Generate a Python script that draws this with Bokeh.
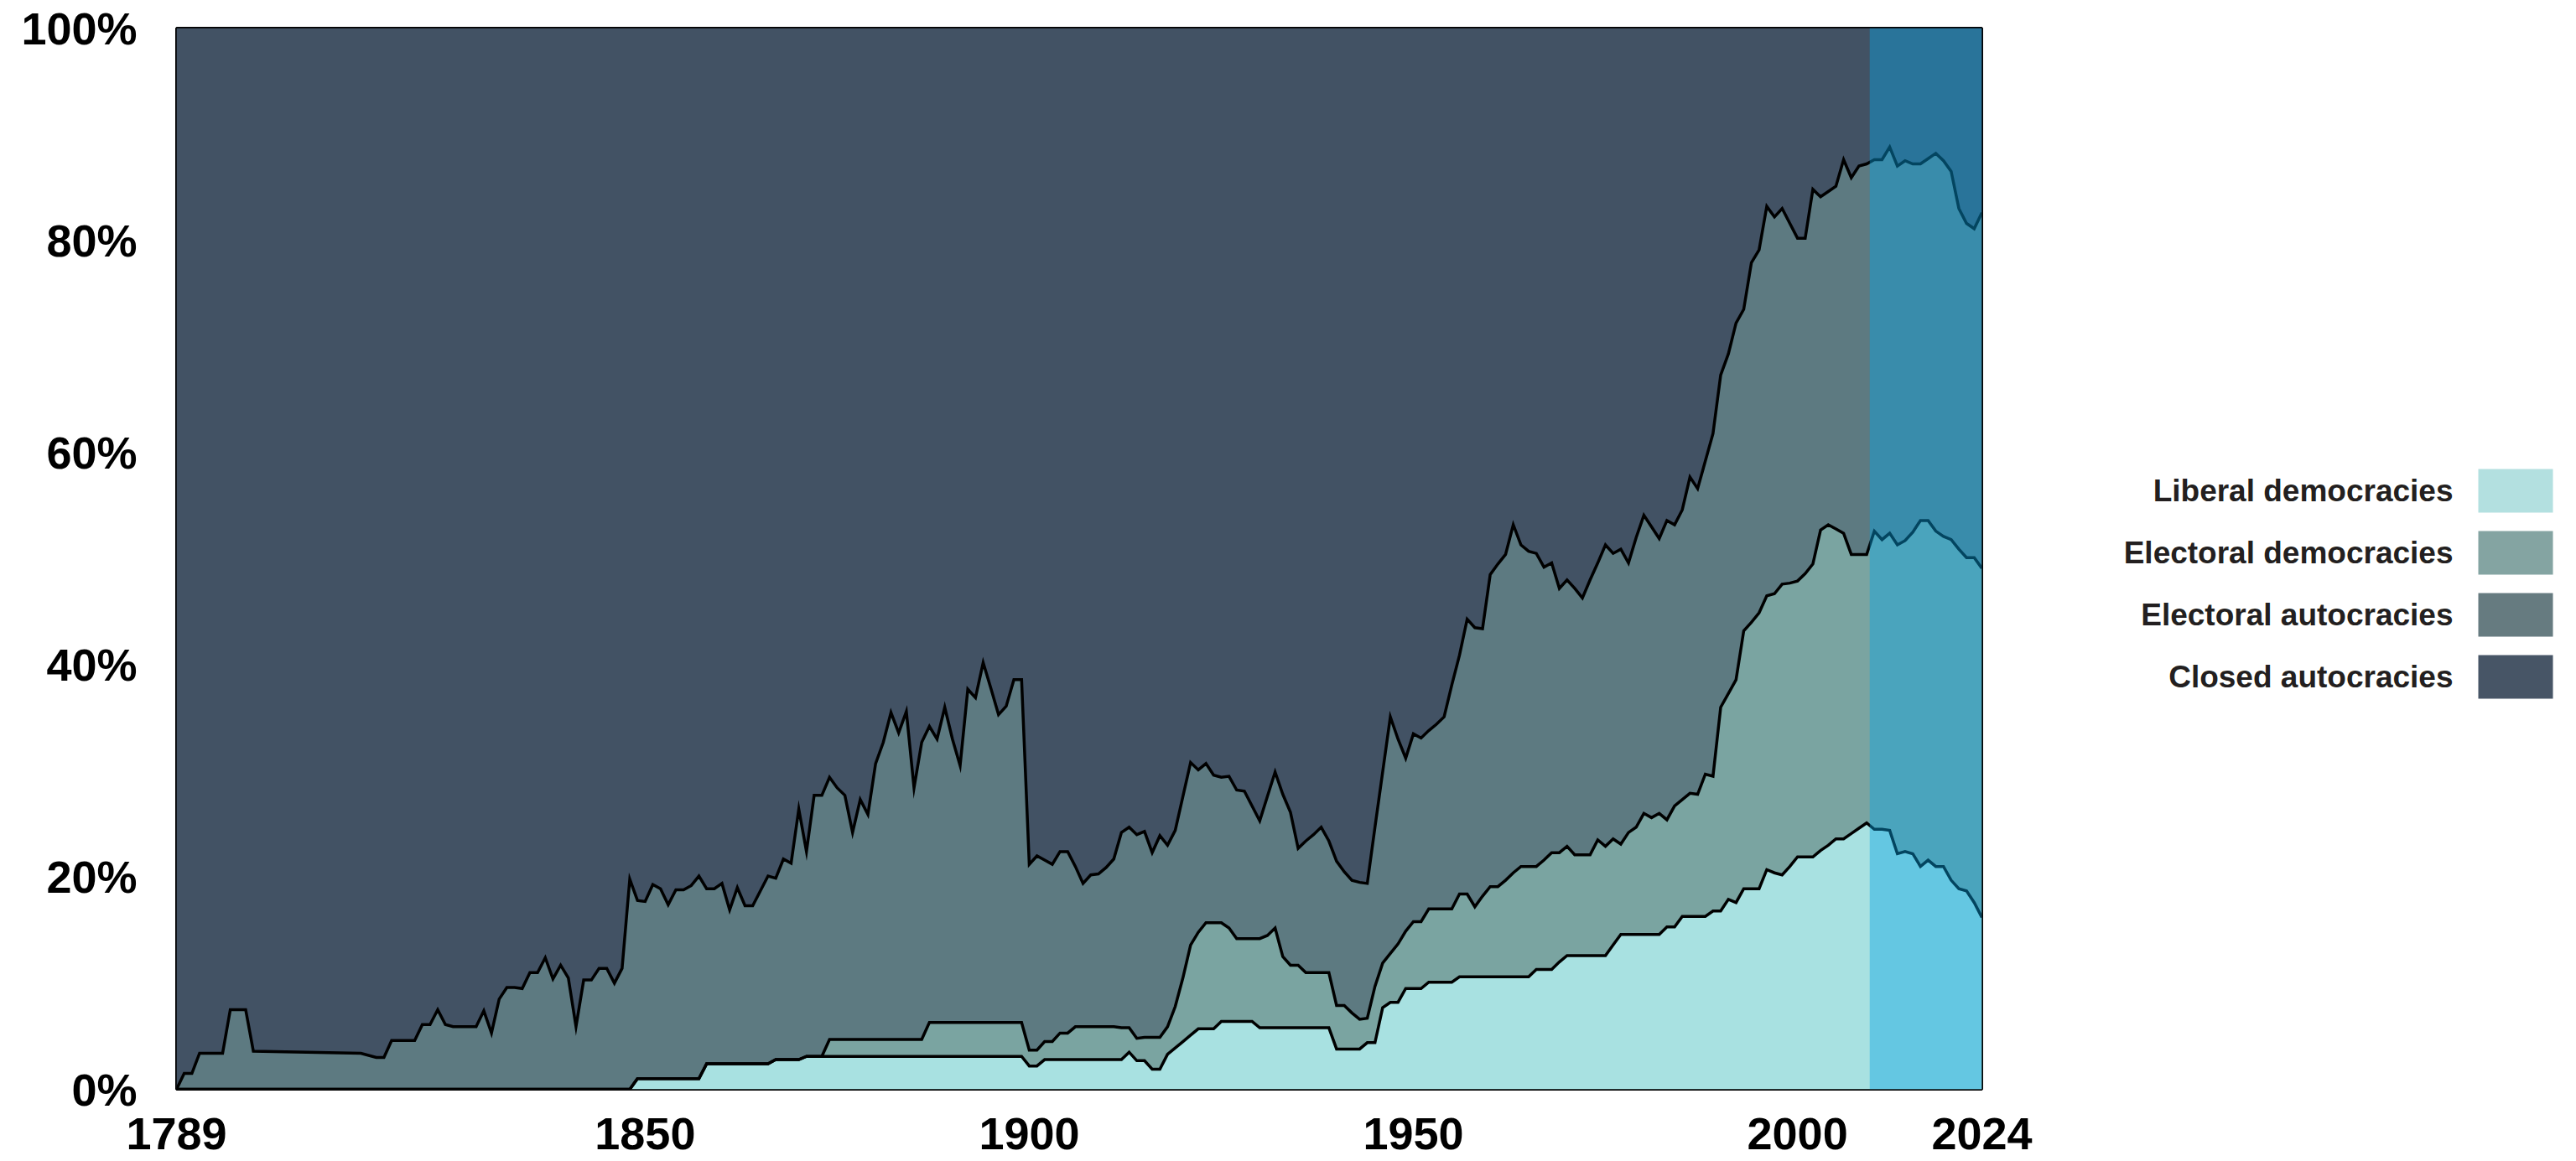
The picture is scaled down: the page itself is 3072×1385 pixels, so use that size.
import numpy as np
from bokeh.plotting import figure
from bokeh.models import Range1d, FixedTicker, BoxAnnotation, ColumnDataSource
from bokeh.layouts import row
from bokeh.core.properties import value
from bokeh.embed import file_html
from bokeh.resources import INLINE

# ---------------- data (share of countries, %) ----------------
years = [1789, 1790, 1791, 1792, 1795, 1796, 1798, 1799, 1813, 1815, 1816, 1817,
         1820, 1821, 1822, 1823, 1824, 1825, 1828, 1829, 1830, 1831, 1832, 1833,
         1834, 1835, 1836, 1837, 1838, 1839, 1840, 1841, 1842, 1843, 1844, 1845,
         1846, 1847, 1848] + list(range(1849, 2025))

liberal_democracies = (
    [0] * 39 + [1.0] +
    [1.0, 1.0, 1.0, 1.0, 1.0, 1.0, 1.0, 1.0, 2.4, 2.4] +          # 1850s
    [2.4, 2.4, 2.4, 2.4, 2.4, 2.4, 2.4, 2.8, 2.8, 2.8] +          # 1860s
    [2.8, 3.1, 3.1, 3.1, 3.1, 3.1, 3.1, 3.1, 3.1, 3.1] +          # 1870s
    [3.1, 3.1, 3.1, 3.1, 3.1, 3.1, 3.1, 3.1, 3.1, 3.1] +          # 1880s
    [3.1, 3.1, 3.1, 3.1, 3.1, 3.1, 3.1, 3.1, 3.1, 3.1] +          # 1890s
    [2.2, 2.2, 2.8, 2.8, 2.8, 2.8, 2.8, 2.8, 2.8, 2.8] +          # 1900s
    [2.8, 2.8, 2.8, 3.5, 2.7, 2.7, 1.9, 1.9, 3.3, 3.9] +          # 1910s
    [4.5, 5.1, 5.7, 5.7, 5.7, 6.4, 6.4, 6.4, 6.4, 6.4] +          # 1920s
    [5.8, 5.8, 5.8, 5.8, 5.8, 5.8, 5.8, 5.8, 5.8, 5.8] +          # 1930s
    [3.8, 3.8, 3.8, 3.8, 4.4, 4.4, 7.7, 8.2, 8.2, 9.5] +          # 1940s
    [9.5, 9.5, 10.1, 10.1, 10.1, 10.1, 10.6, 10.6, 10.6, 10.6] +  # 1950s
    [10.6, 10.6, 10.6, 10.6, 10.6, 10.6, 11.3, 11.3, 11.3, 12.0] +  # 1960s
    [12.6, 12.6, 12.6, 12.6, 12.6, 12.6, 13.6, 14.6, 14.6, 14.6] +  # 1970s
    [14.6, 14.6, 14.6, 15.3, 15.3, 16.3, 16.3, 16.3, 16.3, 16.8] +  # 1980s
    [16.8, 17.9, 17.6, 18.9, 18.9, 18.9, 20.7, 20.4, 20.2, 21.0] +  # 1990s
    [21.9, 21.9, 21.9, 22.5, 23.0, 23.6, 23.6, 24.1, 24.6, 25.1] +  # 2000s
    [24.5, 24.5, 24.4, 22.2, 22.4, 22.2, 21.0, 21.6, 21.0, 21.0] +  # 2010s
    [19.7, 18.9, 18.7, 17.6, 16.2]                                 # 2020s
)

electoral_democracies = (
    [0] * 39 + [0] +
    [0, 0, 0, 0, 0, 0, 0, 0, 0, 0] +
    [0, 0, 0, 0, 0, 0, 0, 0, 0, 0] +
    [0, 0, 0, 0, 1.6, 1.6, 1.6, 1.6, 1.6, 1.6] +
    [1.6, 1.6, 1.6, 1.6, 1.6, 1.6, 1.6, 3.2, 3.2, 3.2] +
    [3.2, 3.2, 3.2, 3.2, 3.2, 3.2, 3.2, 3.2, 3.2, 3.2] +
    [1.5, 1.5, 1.7, 1.7, 2.5, 2.5, 3.1, 3.1, 3.1, 3.1] +
    [3.1, 3.1, 3.0, 2.3, 2.1, 2.2, 3.0, 3.0, 2.6, 3.9] +
    [6.0, 8.5, 9.1, 10.0, 10.0, 9.3, 8.8, 7.8, 7.8, 7.8] +
    [8.4, 8.7, 9.4, 6.7, 5.9, 5.9, 5.2, 5.2, 5.2, 5.2] +
    [4.1, 4.1, 3.4, 2.8, 2.3, 5.3, 4.2, 4.6, 5.5, 5.4] +
    [6.3, 6.3, 6.9, 6.9, 6.9, 6.9, 7.8, 7.8, 6.6, 7.6] +
    [8.5, 8.5, 9.1, 9.8, 10.4, 10.4, 9.7, 10.3, 11.0, 10.3] +
    [10.3, 9.5, 9.5, 9.5, 10.9, 10.3, 10.0, 8.5, 9.6, 10.1] +
    [11.4, 11.0, 11.4, 10.1, 11.4, 11.0, 11.6, 11.5, 13.4, 12.7] +
    [19.2, 19.4, 21.0, 24.3, 25.1, 26.0, 25.8, 26.3, 27.4, 26.7] +
    [26.0, 26.7, 27.6, 30.2, 30.2, 29.2, 28.8, 26.3, 25.8, 25.3] +
    [28.1, 27.3, 28.0, 29.1, 29.3, 30.3, 32.6, 32.0, 31.6, 31.1] +
    [32.1, 32.0, 31.4, 32.5, 32.9]
)

electoral_autocracies = (
    [0, 1.5, 1.5, 3.4, 3.4, 7.5, 7.5, 3.6, 3.4, 3.0, 3.0, 4.6,
     4.6, 6.1, 6.1, 7.5, 6.1, 5.9, 5.9, 7.4, 5.3, 8.5, 9.6, 9.6,
     9.5, 11.0, 11.0, 12.4, 10.4, 11.7, 10.5, 5.9, 10.3, 10.3, 11.4, 11.4,
     10.0, 11.4, 19.8] + [16.8] +
    [16.7, 18.3, 17.9, 16.4, 17.8, 17.8, 18.2, 19.1, 16.5, 16.5] +
    [17.0, 14.5, 16.6, 14.9, 14.9, 16.3, 17.7, 17.1, 18.9, 18.5] +
    [23.6, 19.3, 24.6, 24.6, 24.7, 23.7, 23.0, 19.5, 22.6, 21.2] +
    [26.0, 28.0, 30.8, 28.9, 30.9, 23.7, 28.0, 27.9, 26.7, 29.7] +
    [26.7, 24.2, 31.4, 30.6, 33.9, 31.5, 29.0, 29.8, 32.3, 32.3] +
    [17.5, 18.3, 17.1, 16.7, 17.1, 17.1, 15.1, 13.5, 14.3, 14.4] +
    [15.0, 15.8, 18.4, 18.9, 19.2, 19.4, 17.4, 19.0, 17.1, 16.6] +
    [17.1, 17.2, 15.3, 15.0, 13.9, 13.7, 14.3, 14.0, 13.9, 12.5] +
    [11.1, 13.1, 14.7, 15.3, 14.4, 11.0, 12.4, 13.0, 13.7, 12.4] +
    [13.6, 12.6, 12.5, 12.9, 12.7, 15.0, 18.0, 22.3, 19.3, 16.3] +
    [17.7, 17.3, 16.8, 17.4, 18.1, 21.1, 22.5, 25.9, 26.3, 25.2] +
    [29.4, 30.4, 30.7, 32.8, 30.3, 29.7, 29.5, 27.6, 27.3, 24.9] +
    [25.1, 25.1, 24.2, 25.9, 26.1, 28.4, 26.9, 27.8, 25.4, 27.3] +
    [28.1, 27.4, 25.9, 28.2, 26.5, 27.3, 29.8, 28.8, 29.5, 32.3] +
    [31.3, 32.0, 33.6, 30.3, 33.9, 34.2, 36.7, 35.5, 35.4, 33.9] +
    [32.3, 31.6, 35.3, 31.4, 31.4, 32.3, 35.2, 35.5, 36.6, 36.8] +
    [35.0, 35.8, 36.4, 35.7, 35.8, 34.7, 33.6, 34.1, 35.6, 35.4] +
    [34.7, 32.1, 31.5, 31.0, 33.5]
)

closed_autocracies = (
    [100, 98.5, 98.5, 96.6, 96.6, 92.5, 92.5, 96.4, 96.6, 97.0, 97.0, 95.4,
     95.4, 93.9, 93.9, 92.5, 93.9, 94.1, 94.1, 92.6, 94.7, 91.5, 90.4, 90.4,
     90.5, 89.0, 89.0, 87.6, 89.6, 88.3, 89.5, 94.1, 89.7, 89.7, 88.6, 88.6,
     90.0, 88.6, 80.2] + [82.2] +
    [82.3, 80.7, 81.1, 82.6, 81.2, 81.2, 80.8, 79.9, 81.1, 81.1] +
    [80.6, 83.1, 81.0, 82.7, 82.7, 81.3, 79.9, 80.1, 78.3, 78.7] +
    [73.6, 77.6, 72.3, 72.3, 70.6, 71.6, 72.3, 75.8, 72.7, 74.1] +
    [69.3, 67.3, 64.5, 66.4, 64.4, 71.6, 67.3, 65.8, 67.0, 64.0] +
    [67.0, 69.5, 62.3, 63.1, 59.8, 62.2, 64.7, 63.9, 61.4, 61.4] +
    [78.8, 78.0, 78.4, 78.8, 77.6, 77.6, 79.0, 80.6, 79.8, 79.7] +
    [79.1, 78.3, 75.8, 75.3, 76.0, 75.7, 77.7, 76.1, 77.0, 75.6] +
    [72.4, 69.2, 69.9, 69.3, 70.4, 70.6, 70.5, 71.8, 71.9, 73.3] +
    [74.7, 72.4, 70.1, 72.2, 73.9, 77.3, 76.6, 76.0, 75.3, 76.6] +
    [78.5, 79.5, 80.3, 80.5, 80.6, 75.3, 70.1, 64.9, 67.0, 68.8] +
    [66.5, 66.9, 66.2, 65.6, 64.9, 61.9, 59.1, 55.7, 56.5, 56.6] +
    [51.5, 50.5, 49.6, 46.8, 48.7, 49.3, 49.5, 50.8, 50.4, 52.8] +
    [52.0, 52.8, 53.7, 52.0, 50.4, 48.7, 49.5, 49.1, 50.4, 48.0] +
    [45.9, 47.0, 48.1, 46.4, 46.8, 45.4, 42.3, 43.4, 40.8, 38.2] +
    [32.7, 30.7, 27.8, 26.5, 22.1, 20.9, 16.8, 17.8, 17.0, 18.4] +
    [19.8, 19.8, 15.2, 15.9, 15.4, 14.9, 12.4, 14.1, 13.0, 12.8] +
    [12.4, 12.4, 11.2, 13.0, 12.5, 12.8, 12.8, 12.3, 11.8, 12.5] +
    [13.5, 17.0, 18.4, 18.9, 17.4]
)

categories = ["Liberal democracies", "Electoral democracies",
              "Electoral autocracies", "Closed autocracies"]
area_colors = ["#a8e1e1", "#7aa4a1", "#5d7a81", "#425264"]
legend_colors = ["#b3e0e0", "#84a4a2", "#667b80", "#475566"]

x_ticks = [1789, 1850, 1900, 1950, 2000, 2024]
y_ticks = [0, 20, 40, 60, 80, 100]
y_tick_labels = ["0%", "20%", "40%", "60%", "80%", "100%"]

highlight_start = 2009.4
highlight_end = 2024

# ---------------- layout constants (pixels) ----------------
FONT = "Liberation Sans"
BL, BT, BR, BB = 210, 33, 80, 85
FW, FH = 2153, 1266
TOTAL_H = BT + FH + BB

# ---------------- main figure ----------------
src = ColumnDataSource(dict(year=years, lib=liberal_democracies,
                            eld=electoral_democracies,
                            ela=electoral_autocracies,
                            clo=closed_autocracies))

p = figure(frame_width=FW, frame_height=FH,
           x_range=Range1d(1789, 2024), y_range=Range1d(0, 100),
           output_backend="svg", toolbar_location=None,
           min_border_left=BL, min_border_top=BT, min_border_right=BR,
           min_border_bottom=BB)

p.varea_stack(stackers=["lib", "eld", "ela", "clo"], x="year",
              color=area_colors, source=src)

c1 = np.array(liberal_democracies, dtype=float)
c2 = c1 + np.array(electoral_democracies, dtype=float)
c3 = c2 + np.array(electoral_autocracies, dtype=float)
for c in (c3, c2, c1):
    p.line(years, c, line_color="black", line_width=3.5, line_join="miter")

p.add_layout(BoxAnnotation(left=highlight_start, right=highlight_end,
                           fill_color="#06a5e4", fill_alpha=0.42,
                           line_color=None))

p.xgrid.visible = False
p.ygrid.visible = False
p.outline_line_color = "black"
p.outline_line_width = 3
p.background_fill_color = "#425264"

p.xaxis.ticker = FixedTicker(ticks=x_ticks)
p.yaxis.ticker = FixedTicker(ticks=y_ticks)
p.yaxis.major_label_overrides = {t: l for t, l in zip(y_ticks, y_tick_labels)}
for ax in (p.xaxis[0], p.yaxis[0]):
    ax.axis_line_color = None
    ax.major_tick_line_color = None
    ax.minor_tick_line_color = None
    ax.major_tick_in = 0
    ax.major_tick_out = 0
    ax.minor_tick_in = 0
    ax.minor_tick_out = 0
    ax.major_label_text_font = FONT
    ax.major_label_text_font_style = "bold"
    ax.major_label_text_font_size = "54px"
    ax.major_label_text_color = "black"
p.yaxis.major_label_standoff = 47
p.xaxis.major_label_standoff = 34

# ---------------- legend panel ----------------
# y range expressed in page pixels of the main plot frame (33 .. 1299)
W2 = 3056 - (BL + FW + BR)
lg = figure(width=W2, height=TOTAL_H, x_range=Range1d(0, W2),
            y_range=Range1d(BT + FH, BT), output_backend="svg",
            toolbar_location=None, min_border_left=0, min_border_right=0,
            min_border_top=BT, min_border_bottom=BB)
lg.axis.visible = False
lg.grid.visible = False
lg.outline_line_color = None
row_y = [585, 659, 733, 807]
lg.rect(x=556.5, y=row_y, width=89, height=52, fill_color=legend_colors,
        line_color=None)
lg.text(x=482, y=row_y, text=categories, text_align="right",
        text_baseline="middle", text_font=value(FONT),
        text_font_style="bold", text_font_size="37px", text_color="#231f20")

layout = row(p, lg)
open("out.html", "w").write(file_html(layout, INLINE))
